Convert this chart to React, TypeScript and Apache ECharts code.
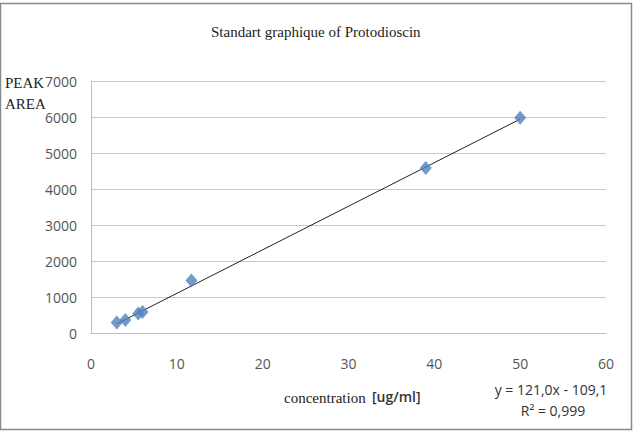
import React, { useEffect, useRef } from "react";
import * as echarts from "echarts";

const concentration = [3, 4, 5.5, 6, 11.7, 39, 50];
const peakArea = [290, 360, 540, 580, 1460, 4580, 5980];
const trendX = [3, 50];
const trendY = [254, 5941];
const xTicks = { min: 0, max: 60, interval: 10 };
const yTicks = { min: 0, max: 7000, interval: 1000 };
const titleText = "Standart graphique of Protodioscin";
const equationText = "y = 121,0x - 109,1";
const r2Text = "R² = 0,999";

export default function App() {
  const ref = useRef<HTMLDivElement>(null);
  useEffect(() => {
    if (!ref.current) return;
    const chart = echarts.init(ref.current, null, { renderer: "svg" });
    const serif = "'Liberation Serif', 'DejaVu Serif', serif";
    const sans = "'Open Sans', 'Liberation Sans', sans-serif";
    chart.setOption({
      animation: false,
      backgroundColor: "#ffffff",
      title: {
        text: titleText,
        left: 206,
        top: 19,
        textStyle: { fontFamily: serif, fontSize: 15, fontWeight: "normal", color: "#222" },
      },
      grid: { left: 91, right: 31, top: 81, bottom: 101 },
      xAxis: {
        type: "value",
        min: xTicks.min,
        max: xTicks.max,
        interval: xTicks.interval,
        axisLine: { show: true, lineStyle: { color: "#bfbfbf" } },
        axisTick: { show: false },
        splitLine: { show: false },
        axisLabel: { fontFamily: sans, fontSize: 14, color: "#555", margin: 23, formatter: (v: number) => String(v) },
      },
      yAxis: {
        type: "value",
        min: yTicks.min,
        max: yTicks.max,
        interval: yTicks.interval,
        axisLine: { show: true, lineStyle: { color: "#bfbfbf" } },
        axisTick: { show: false },
        splitLine: { show: true, lineStyle: { color: "#c8c8c8" } },
        axisLabel: { fontFamily: sans, fontSize: 14, color: "#555", margin: 14, formatter: (v: number) => String(v) },
      },
      series: [
        {
          type: "line",
          data: trendX.map((x, i) => [x, trendY[i]]),
          symbol: "none",
          lineStyle: { color: "#222", width: 1 },
          z: 2,
        },
        {
          type: "scatter",
          data: concentration.map((x, i) => [x, peakArea[i]]),
          symbol: "diamond",
          symbolSize: [12, 14],
          itemStyle: { color: "#4f81bd" },
          z: 3,
        },
      ],
      graphic: [
        {
          type: "rect",
          shape: { x: 0.5, y: 3.5, width: 631, height: 426 },
          style: { fill: "none", stroke: "#8a8a8a", lineWidth: 1.5 },
          silent: true,
        },
        {
          type: "text",
          left: 5,
          top: 75,
          style: { text: "PEAK", font: `15px ${serif}`, fill: "#222" },
        },
        {
          type: "text",
          left: 5,
          top: 96,
          style: { text: "AREA", font: `15px ${serif}`, fill: "#222" },
        },
        {
          type: "text",
          left: 284,
          top: 390,
          style: { text: "concentration", font: `15px ${serif}`, fill: "#222" },
        },
        {
          type: "text",
          left: 372,
          top: 389,
          style: { text: "[ug/ml]", font: `600 14px ${sans}`, fill: "#333" },
        },
        {
          type: "text",
          x: 551,
          y: 389,
          style: { text: equationText, font: `14px ${sans}`, fill: "#333", align: "center", verticalAlign: "middle" },
        },
        {
          type: "text",
          x: 553,
          y: 410,
          style: { text: r2Text, font: `14px ${sans}`, fill: "#333", align: "center", verticalAlign: "middle" },
        },
      ],
    });
    return () => chart.dispose();
  }, []);
  return (
    <div
      ref={ref}
      style={{ position: "fixed", left: 0, top: 0, width: 637, height: 434 }}
    />
  );
}
